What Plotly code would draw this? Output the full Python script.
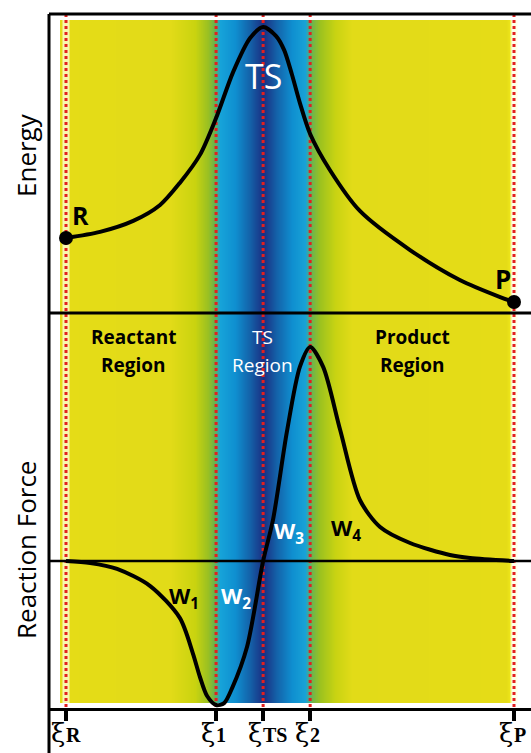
import plotly.graph_objects as go

W, H = 531, 753

# Reaction coordinate landmarks (xi_R ... xi_P)
xi_names = ["R", "1", "TS", "2", "P"]
xi_vals = [0.0, 0.335, 0.44, 0.545, 1.0]

# Energy profile along the reaction coordinate
energy_xi = [0.000, 0.076, 0.150, 0.210, 0.254, 0.299, 0.335, 0.373, 0.411, 0.440,
             0.469, 0.487, 0.504, 0.522, 0.545, 0.589, 0.656, 0.768, 0.879, 0.969, 1.000]
energy_val = [23.3, 25.5, 29.5, 35.3, 43.3, 53.5, 66.9, 83.6, 96.0, 100.0,
              96.7, 91.6, 82.9, 72.4, 61.1, 48.0, 33.1, 18.9, 8.0, 1.8, 0.0]

# Reaction force profile
force_xi = [0.000, 0.054, 0.114, 0.188, 0.254, 0.283, 0.299, 0.315, 0.335, 0.353,
            0.371, 0.404, 0.440, 0.462, 0.493, 0.522, 0.545, 0.574, 0.612, 0.656,
            0.701, 0.768, 0.857, 0.902, 1.000]
force_val = [0.0, -0.9, -3.7, -11.7, -26.6, -43.0, -54.2, -63.1, -67.3, -66.4,
             -59.3, -40.2, 0.0, 19.2, 60.3, 90.7, 100.0, 90.7, 61.2, 28.5,
             15.9, 8.4, 2.8, 1.4, 0.0]

# Background colour stops (reactant -> TS -> product)
bg_xi = [-0.013, 0.232, 0.288, 0.317, 0.330, 0.344, 0.377, 0.411, 0.440,
         0.469, 0.504, 0.533, 0.549, 0.567, 0.600, 0.638, 0.982, 0.996]
bg_colors = ["#e5dc17", "#e2db18", "#c9d30f", "#98c023", "#6db348", "#16a3d9",
             "#0f8fd0", "#1461a8", "#1a2e82", "#1461a8", "#0f8fd0", "#18a2d6",
             "#6fb54a", "#9cc21f", "#c8d312", "#e2db18", "#e5dc17", "#f2ea1a"]


def xi_at(px):
    return (px - 66) / 448.0


def fx(px):
    return px / W


def fy(py):
    return 1 - py / H


full_xrange = [xi_at(49), xi_at(531)]
full_xdom = [fx(49), 1.0]

fig = go.Figure()

# background gradient
n = len(bg_colors)
fig.add_trace(go.Heatmap(
    x=bg_xi, y=[0, 1], z=[list(range(n)), list(range(n))],
    colorscale=[[i / (n - 1), c] for i, c in enumerate(bg_colors)],
    zsmooth="best", showscale=False, hoverinfo="skip",
    xaxis="x", yaxis="y"))

# vertical guides at each landmark
for v in xi_vals:
    if v in (xi_vals[0], xi_vals[-1]):
        fig.add_trace(go.Scatter(
            x=[v, v], y=[20, 703], mode="lines",
            line=dict(color="rgba(255,255,225,0.75)", width=7),
            hoverinfo="skip", showlegend=False, xaxis="x2", yaxis="y2"))
    fig.add_trace(go.Scatter(
        x=[v, v], y=[14, 708], mode="lines",
        line=dict(color="#e3201f", width=3, dash="dot"),
        hoverinfo="skip", showlegend=False, xaxis="x2", yaxis="y2"))

# energy curve
fig.add_trace(go.Scatter(
    x=energy_xi, y=energy_val, mode="lines",
    line=dict(color="black", width=4, shape="spline", smoothing=0.8),
    hoverinfo="skip", showlegend=False, xaxis="x3", yaxis="y3"))
fig.add_trace(go.Scatter(
    x=[energy_xi[0], energy_xi[-1]], y=[energy_val[0], energy_val[-1]],
    mode="markers", marker=dict(color="black", size=14),
    cliponaxis=False, hoverinfo="skip", showlegend=False,
    xaxis="x3", yaxis="y3"))

# reaction force curve
fig.add_trace(go.Scatter(
    x=force_xi, y=force_val, mode="lines",
    line=dict(color="black", width=4, shape="spline", smoothing=0.8),
    hoverinfo="skip", showlegend=False, xaxis="x4", yaxis="y4"))

hidden = dict(showgrid=False, zeroline=False, showticklabels=False,
              showline=False, ticks="", fixedrange=True)

fig.update_layout(
    width=W, height=H,
    margin=dict(l=0, r=0, t=0, b=0),
    paper_bgcolor="white", plot_bgcolor="rgba(0,0,0,0)",
    showlegend=False,
    xaxis=dict(domain=[fx(60), fx(512)], range=[xi_at(60), xi_at(512)], **hidden),
    yaxis=dict(domain=[fy(703), fy(20)], range=[0, 1], **hidden),
    xaxis2=dict(domain=full_xdom, range=full_xrange, anchor="y2", **hidden),
    yaxis2=dict(domain=[0, 1], range=[H, 0], anchor="x2", **hidden),
    xaxis3=dict(domain=full_xdom, range=full_xrange, anchor="y3", **hidden),
    yaxis3=dict(domain=[fy(313), fy(14)],
                range=[(302 - 313) / 2.75, (302 - 14) / 2.75], anchor="x3", **hidden),
    xaxis4=dict(domain=full_xdom, range=full_xrange, anchor="y4",
                showgrid=False, zeroline=False, fixedrange=True,
                showline=True, linecolor="black", linewidth=3,
                ticks="outside", ticklen=10, tickwidth=4, tickcolor="black",
                tickvals=xi_vals, showticklabels=False),
    yaxis4=dict(domain=[fy(708), fy(313)],
                range=[(561 - 708) / 2.14, (561 - 313) / 2.14], anchor="x4", **hidden),
)

# frame lines
for y_px, w in [(14, 3), (313, 3), (561, 2.5)]:
    fig.add_shape(type="line", xref="paper", yref="paper",
                  x0=fx(49), x1=1, y0=fy(y_px), y1=fy(y_px),
                  line=dict(color="black", width=w), layer="above")
fig.add_shape(type="line", xref="paper", yref="paper",
              x0=fx(49), x1=fx(49), y0=0, y1=fy(14),
              line=dict(color="black", width=3), layer="above")

sans = "Open Sans"
serif = "Liberation Serif"


def label(text, x, y, size, color="black", angle=0, family=sans):
    fig.add_annotation(text=text, x=fx(x), y=fy(y), xref="paper", yref="paper",
                       showarrow=False, xanchor="center", yanchor="middle",
                       textangle=angle, font=dict(family=family, size=size, color=color))


# reaction-coordinate tick labels: xi glyph plus its subscript
for name, v in zip(xi_names, xi_vals):
    fig.add_annotation(text="ξ", x=v, y=fy(733), xref="x4", yref="paper",
                       showarrow=False, xanchor="right", yanchor="middle", xshift=1,
                       font=dict(family="DejaVu Serif", size=26, color="black"))
    fig.add_annotation(text="<b>%s</b>" % name, x=v, y=fy(735), xref="x4", yref="paper",
                       showarrow=False, xanchor="left", yanchor="middle", xshift=-2,
                       font=dict(family=serif, size=20, color="black"))

label("Energy", 26, 155, 26, angle=-90)
label("Reaction Force", 26, 550, 26, angle=-90)
label("<b>R</b>", 80, 215, 25)
label("<b>P</b>", 503, 279, 26)
label("TS", 263, 76, 34, color="white")

for lines, cx, col, bold in [(("Reactant", "Region"), 133, "black", True),
                             (("TS", "Region"), 262, "white", False),
                             (("Product", "Region"), 412, "black", True)]:
    for i, t in enumerate(lines):
        label("<b>%s</b>" % t if bold else t, cx, 337 + 28 * i, 19, color=col)

for sub, x, y, col in [("1", 184, 597, "black"), ("2", 236, 597, "white"),
                       ("3", 289, 532, "white"), ("4", 346, 529, "black")]:
    label("<b>W<sub>%s</sub></b>" % sub, x, y, 22, color=col)

fig.write_html("out.html")
